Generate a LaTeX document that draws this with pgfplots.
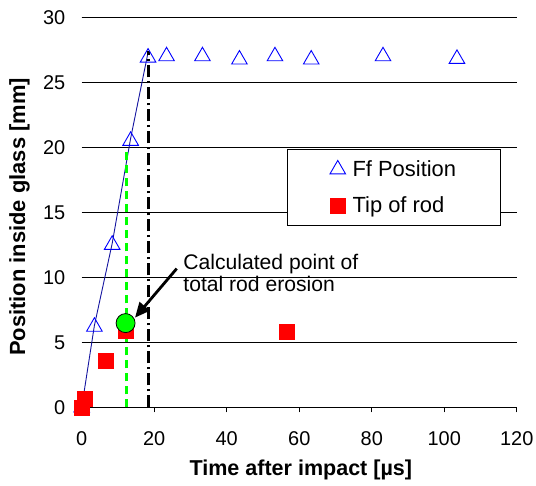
\documentclass[border=0pt]{standalone}
\usepackage{pgfplots}
\pgfplotsset{compat=1.18}
\usepackage{fontspec}
\setmainfont{Liberation Sans}
\usetikzlibrary{arrows.meta}
\definecolor{ffblue}{RGB}{0,0,255}
\definecolor{lineblue}{RGB}{20,20,160}
\definecolor{tipred}{RGB}{255,0,0}
\definecolor{calcgreen}{RGB}{0,255,0}
\begin{document}
\begin{tikzpicture}
\begin{axis}[
  scale only axis, width=435bp, height=390bp,
  xmin=0, xmax=120, ymin=0, ymax=30,
  clip=false,
  separate axis lines,
  x axis line style={black, line width=0.8bp},
  y axis line style={draw=none},
  xtick={0,20,...,120}, ytick={0,5,...,30},
  xtick pos=bottom, tick align=outside,
  major tick length=5bp,
  xtick style={black, line width=0.8bp},
  ytick style={draw=none},
  ymajorgrids, grid style={black, line width=0.8bp},
  /pgf/number format/assume math mode=true,
  ticklabel style={font=\fontsize{20}{23}\selectfont},
  xticklabel style={yshift=-16bp},
  yticklabel style={xshift=-8bp},
  xlabel={Time after impact [µs]},
  ylabel={Position inside glass [mm]},
  xlabel style={font=\fontsize{21.6}{25}\selectfont\bfseries, at={(axis description cs:0.5037,-0.1736)}, anchor=base},
  ylabel style={font=\fontsize{22}{25}\selectfont\bfseries, at={(axis description cs:-0.1303,0.488)}, anchor=base, rotate=0},
  legend style={at={(axis description cs:0.472,0.6615)}, anchor=north west,
    draw=black, line width=0.8bp, fill=white, font=\fontsize{22}{26}\selectfont,
    inner xsep=42.5bp, inner ysep=9bp, row sep=15bp, legend cell align=left,
    /tikz/every odd column/.append style={column sep=5bp}},
]
% blue connecting line (first points only)
\addplot[lineblue, line width=0.9bp, forget plot] coordinates {
  (0,0) (3.5,6.3) (8.4,12.6) (13.5,20.7) (18.3,27.3)
};
% Ff position
\addplot[only marks, mark=triangle, mark size=9bp, ffblue, mark options={line width=0.9bp, fill=white}] coordinates {
  (0,0) (3.5,6.2) (8.4,12.5) (13.5,20.5) (18.3,26.9) (23.4,27.0) (33.3,27.0)
  (43.5,26.75) (53.3,27.0) (63.3,26.75) (83.1,27.0) (103.5,26.8)
};
\addlegendentry{Ff Position}
% tip of rod
\addplot[only marks, mark=square*, mark size=7.5bp, tipred, mark options={draw=tipred, fill=tipred}] coordinates {
  (0,0) (0.8,0.67) (6.5,3.6) (12.2,5.86) (56.6,5.8)
};
\addlegendentry{Tip of rod}
% green dashed vertical
\addplot[calcgreen, line width=2.5bp, dash pattern=on 8bp off 5bp, forget plot] coordinates {(12.4,0) (12.4,19.8)};
% black dash-dot vertical
\addplot[black, line width=2.7bp, dash pattern=on 12bp off 4bp on 2bp off 4bp, forget plot] coordinates {(18.4,0) (18.4,27.4)};
% calculated point
\addplot[only marks, mark=*, mark size=9.5bp, forget plot, mark options={draw=black, fill=calcgreen, line width=0.8bp}] coordinates {(12.1,6.48)};
\draw[black, line width=2.8bp, -{Triangle[length=15bp,width=13bp]}] (axis cs:26.2,10.67) -- (axis cs:14.7,6.9);
\node[anchor=base west, inner sep=0, font=\fontsize{21.2}{25}\selectfont] at (axis cs:28.0,10.6) {Calculated point of};
\node[anchor=base west, inner sep=0, font=\fontsize{21.2}{25}\selectfont] at (axis cs:28.0,8.88) {total rod erosion};
\coordinate (bbSW) at (axis cs:-22.54,-5.98);
\coordinate (bbNE) at (axis cs:125.3,31.33);
\end{axis}
\pgfresetboundingbox
\path (bbSW) rectangle (bbNE);
\end{tikzpicture}
\end{document}
